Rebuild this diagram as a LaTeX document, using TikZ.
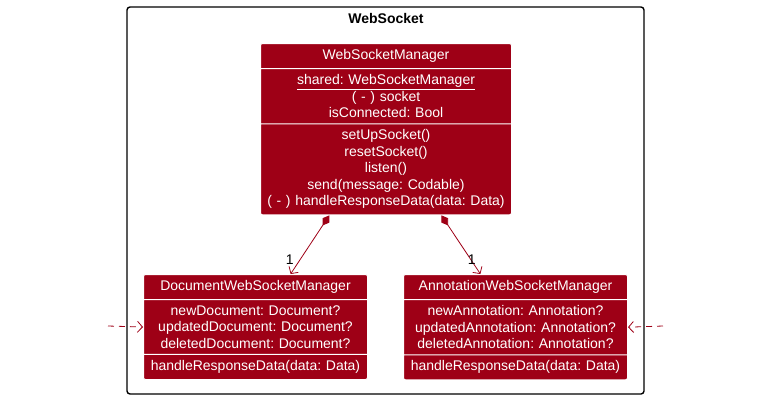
\documentclass[tikz,border=0pt]{standalone}
\usepackage{fontspec}
\setmainfont{Liberation Sans}
\usetikzlibrary{arrows.meta, positioning, calc, shapes.multipart}
\definecolor{merahuml}{RGB}{158,0,22}
\frenchspacing

\begin{document}
\begin{tikzpicture}[x=1pt, y=-1pt, font=\fontsize{14}{16.5}\selectfont,
        cls/.style={rectangle split, rectangle split parts=3, draw=white, line width=1pt,
                    fill=merahuml, text=white, align=center, inner xsep=0pt, inner ysep=5.5pt,
                    rounded corners=2pt, anchor=north west},
        komposisi/.style={draw=merahuml, line width=0.8pt,
                    {Diamond[length=12pt,width=8pt,fill=merahuml]}-{Straight Barb[length=5pt,width=11pt]}},
        dependensi/.style={draw=merahuml, line width=0.8pt, dash pattern=on 6pt off 5pt,
                    -{Straight Barb[length=5pt,width=11pt]}}
    ]
        \useasboundingbox (0,0) rectangle (777,400);
        % package frame
        \draw[line width=1.4pt, rounded corners=3pt] (127,7) rectangle (644,394);
        \node[font=\fontsize{14}{16.5}\selectfont\bfseries] (judul) at (386,18) {WebSocket};

        \node[cls, text width=251pt] (wsm) at (260,43) {WebSocketManager
            \nodepart{two} \underline{shared: WebSocketManager}\\ ( - ) socket\\ isConnected: Bool
            \nodepart{three} setUpSocket()\\ resetSocket()\\ listen()\\ send(message: Codable)\\
            ( - ) handleResponseData(data: Data)};
        \node[cls, text width=224pt] (dwsm) at (143,274) {DocumentWebSocketManager
            \nodepart{two} newDocument: Document?\\ updatedDocument: Document?\\ deletedDocument: Document?
            \nodepart{three} handleResponseData(data: Data)};
        \node[cls, text width=224pt] (awsm) at (403,274) {AnnotationWebSocketManager
            \nodepart{two} newAnnotation: Annotation?\\ updatedAnnotation: Annotation?\\ deletedAnnotation: Annotation?
            \nodepart{three} handleResponseData(data: Data)};

        % composition
        \draw[komposisi] ($(wsm.south west)!0.275!(wsm.south east)$)
            -- node[pos=0.75, left=3pt, text=black] {1} ($(dwsm.north west)!0.656!(dwsm.north east)$);
        \draw[komposisi] ($(wsm.south west)!0.72!(wsm.south east)$)
            -- node[pos=0.75, xshift=1pt, text=black] {1} ($(awsm.north west)!0.344!(awsm.north east)$);

        % dependencies from outside
        \coordinate (luarkiri) at (108,326);
        \coordinate (luarkanan) at (663,326);
        \draw[dependensi] (luarkiri) -- (dwsm.west);
        \draw[dependensi] (luarkanan) -- (awsm.east);
    \end{tikzpicture}
\end{document}
